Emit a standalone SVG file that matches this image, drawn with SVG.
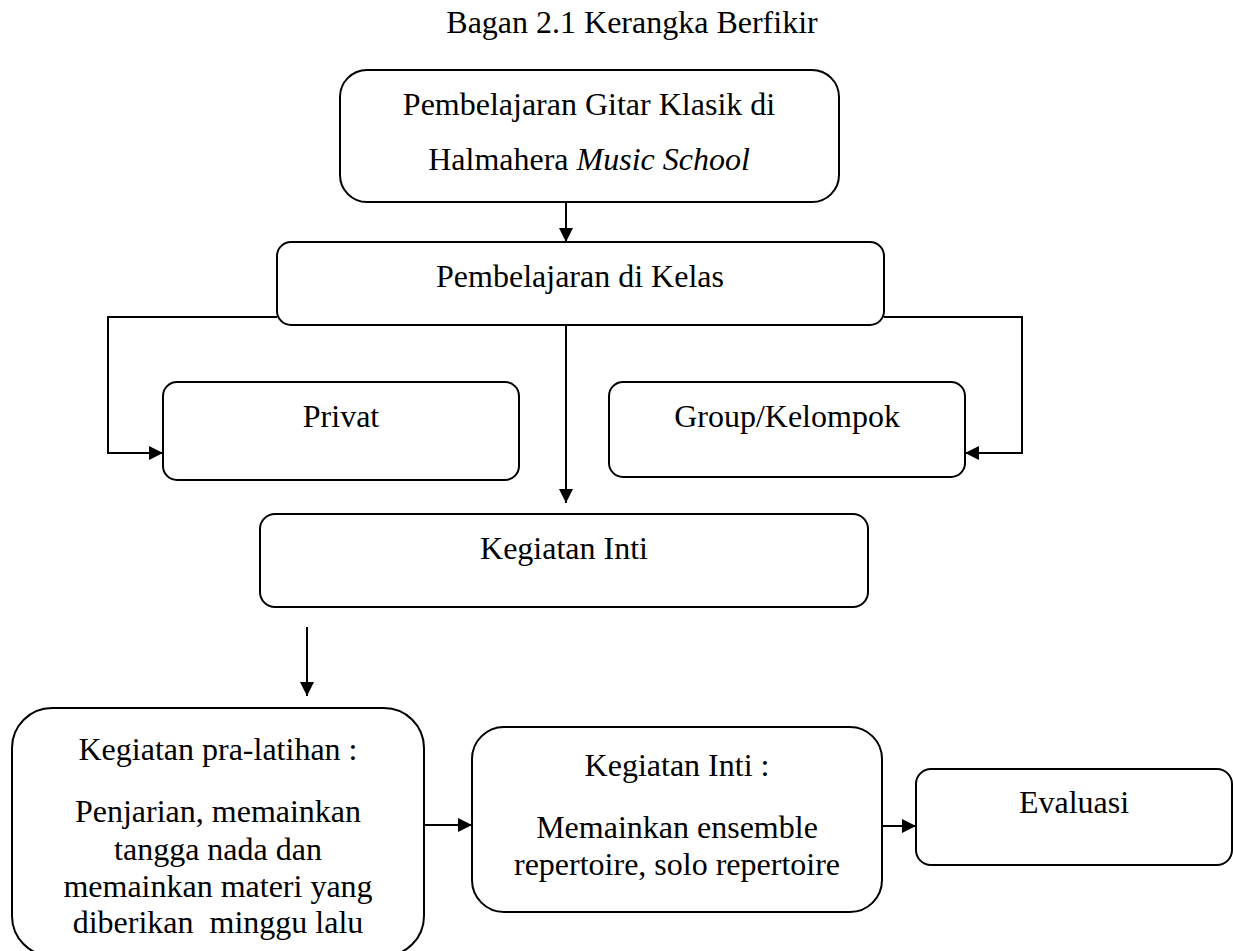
<svg xmlns="http://www.w3.org/2000/svg" width="1233" height="951" viewBox="0 0 1233 951">
<style>
.box{fill:#fff;stroke:#000;stroke-width:2}
.t{font-family:"Liberation Serif","Times New Roman",serif;font-size:32px;fill:#000;text-anchor:middle}
.c{fill:none;stroke:#000;stroke-width:2}
</style>
<defs>
<marker id="ah" viewBox="0 0 14 14" refX="14" refY="7" markerWidth="14" markerHeight="14" orient="auto" markerUnits="userSpaceOnUse"><path d="M0,0 L14,7 L0,14 z" fill="#000"/></marker>
<clipPath id="praclip"><rect x="0" y="700" width="440" height="243"/></clipPath>
</defs>
<rect width="1233" height="951" fill="#fff"/>
<text id="title" class="t" x="632" y="33">Bagan 2.1 Kerangka Berfikir</text>
<g id="connectors">
<path class="c" d="M566,202 V242" marker-end="url(#ah)"/>
<path class="c" d="M277,317 H108 V453 H163" marker-end="url(#ah)"/>
<path class="c" d="M884,317 H1022 V453 H965" marker-end="url(#ah)"/>
<path class="c" d="M566,325 V503" marker-end="url(#ah)"/>
<path class="c" d="M307,627 V696" marker-end="url(#ah)"/>
<path class="c" d="M413,825 H472" marker-end="url(#ah)"/>
<path class="c" d="M882,826 H916" marker-end="url(#ah)"/>
</g>
<g id="n1">
<rect class="box" x="340" y="70" width="499" height="132" rx="27"/>
<text class="t" x="589" y="115">Pembelajaran Gitar Klasik di</text>
<text class="t" x="589" y="170">Halmahera <tspan font-style="italic">Music School</tspan></text>
</g>
<g id="n2">
<rect class="box" x="277" y="242" width="607" height="83" rx="14"/>
<text class="t" x="580" y="287">Pembelajaran di Kelas</text>
</g>
<g id="n3">
<rect class="box" x="163" y="382" width="356" height="98" rx="14"/>
<text class="t" x="341" y="427">Privat</text>
</g>
<g id="n4">
<rect class="box" x="609" y="382" width="356" height="95" rx="14"/>
<text class="t" x="787" y="427">Group/Kelompok</text>
</g>
<g id="n5">
<rect class="box" x="260" y="514" width="608" height="93" rx="15"/>
<text class="t" x="564" y="559">Kegiatan Inti</text>
</g>
<g id="n6">
<rect class="box" x="12" y="708" width="412" height="248" rx="40"/>
<g clip-path="url(#praclip)">
<text class="t" x="218" y="760">Kegiatan pra-latihan :</text>
<text class="t" x="218" y="822">Penjarian, memainkan</text>
<text class="t" x="218" y="860">tangga nada dan</text>
<text class="t" x="218" y="897">memainkan materi yang</text>
<text class="t" x="218" y="933" xml:space="preserve">diberikan  minggu lalu</text>
</g>
</g>
<g id="n7">
<rect class="box" x="472" y="727" width="410" height="185" rx="32"/>
<text class="t" x="677" y="776">Kegiatan Inti :</text>
<text class="t" x="677" y="838">Memainkan ensemble</text>
<text class="t" x="677" y="875">repertoire, solo repertoire</text>
</g>
<g id="n8">
<rect class="box" x="916" y="769" width="316" height="96" rx="15"/>
<text class="t" x="1074" y="813">Evaluasi</text>
</g>
</svg>
